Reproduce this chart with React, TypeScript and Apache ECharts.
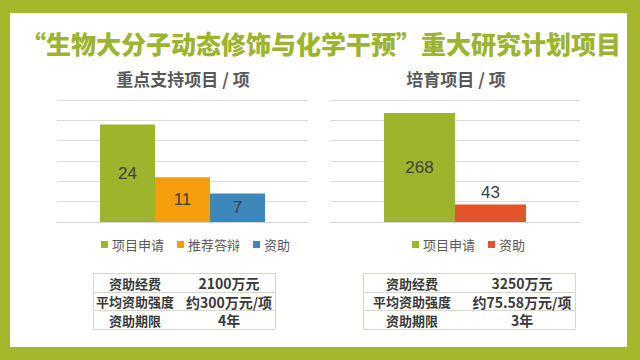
import React, { useEffect, useRef } from "react";
import * as echarts from "echarts";

const mainTitle = "“生物大分子动态修饰与化学干预”重大研究计划项目";

const leftTitle = "重点支持项目 / 项";
const leftSeriesNames = ["项目申请", "推荐答辩", "资助"];
const leftValues = [24, 11, 7];
const leftColors = ["#9db42c", "#f59d0a", "#3d87bb"];

const rightTitle = "培育项目 / 项";
const rightSeriesNames = ["项目申请", "资助"];
const rightValues = [268, 43];
const rightColors = ["#9db42c", "#e2542a"];

const tableLabels = ["资助经费", "平均资助强度", "资助期限"];
const leftTableValues = ["2100万元", "约300万元/项", "4年"];
const rightTableValues = ["3250万元", "约75.58万元/项", "3年"];

const FONT = "'Noto Sans CJK SC', 'Noto Sans', sans-serif";
const NUMFONT = "'Liberation Sans', Arial, sans-serif";

function buildTable(x0: number, x1: number, labelCx: number, valueCx: number, values: string[]) {
  const rows = [273, 292, 310, 329];
  const els: any[] = [];
  const lineColor = "#d8d8ca";
  rows.forEach((y) => {
    els.push({ type: "line", shape: { x1: x0, y1: y + 0.5, x2: x1, y2: y + 0.5 }, style: { stroke: lineColor, lineWidth: 1 } });
  });
  els.push({ type: "line", shape: { x1: x0 + 0.5, y1: rows[0], x2: x0 + 0.5, y2: rows[3] }, style: { stroke: lineColor, lineWidth: 1 } });
  els.push({ type: "line", shape: { x1: x1 + 0.5, y1: rows[0], x2: x1 + 0.5, y2: rows[3] }, style: { stroke: lineColor, lineWidth: 1 } });
  tableLabels.forEach((lab, i) => {
    const cy = (rows[i] + rows[i + 1]) / 2 + 0.5;
    els.push({ type: "text", x: labelCx, y: cy, style: { text: lab, fill: "#3a3a3a", font: `bold 13px ${FONT}`, textAlign: "center", textVerticalAlign: "middle" } });
    els.push({ type: "text", x: valueCx, y: cy, style: { text: values[i], fill: "#3a3a3a", font: `bold 14px ${FONT}`, textAlign: "center", textVerticalAlign: "middle" } });
  });
  return els;
}

export default function App() {
  const ref = useRef<HTMLDivElement>(null);
  useEffect(() => {
    if (!ref.current) return;
    const chart = echarts.init(ref.current, undefined, { renderer: "svg" });
    const splitLine = { show: true, lineStyle: { color: "#dcdcdc", width: 1 } };
    const labelStyle = { color: "#404040", fontSize: 17, fontFamily: NUMFONT };
    const series: any[] = [];
    leftSeriesNames.forEach((n, i) => {
      series.push({
        type: "bar", name: n, xAxisIndex: 0, yAxisIndex: 0, barWidth: 55, barGap: "0%",
        data: [leftValues[i]], itemStyle: { color: leftColors[i] },
        label: { show: true, position: "inside", ...labelStyle },
      });
    });
    rightSeriesNames.forEach((n, i) => {
      series.push({
        type: "bar", name: n, xAxisIndex: 1, yAxisIndex: 1, barWidth: 71, barGap: "0%",
        data: [rightValues[i]], itemStyle: { color: rightColors[i] },
        label: { show: true, position: i === 0 ? "inside" : "top", distance: 4, ...labelStyle },
      });
    });
    const legendCommon = {
      itemWidth: 7, itemHeight: 7, itemGap: 13, icon: "rect", selectedMode: false,
      textStyle: { color: "#595959", fontSize: 13, fontFamily: FONT, padding: [0, 0, 0, -1] },
    };
    chart.setOption({
      animation: false,
      backgroundColor: "#a4b72b",
      grid: [
        { left: 57, top: 100, width: 251, height: 122 },
        { left: 330, top: 100, width: 250, height: 122 },
      ],
      xAxis: [0, 1].map((g) => ({
        type: "category", gridIndex: g, data: [g === 0 ? leftTitle : rightTitle],
        axisLine: { show: true, lineStyle: { color: "#d4d4d4" } }, axisTick: { show: false }, axisLabel: { show: false },
      })),
      yAxis: [
        { type: "value", gridIndex: 0, min: 0, max: 30, interval: 5, axisLabel: { show: false }, axisLine: { show: false }, axisTick: { show: false }, splitLine },
        { type: "value", gridIndex: 1, min: 0, max: 300, interval: 50, axisLabel: { show: false }, axisLine: { show: false }, axisTick: { show: false }, splitLine },
      ],
      legend: [
        { ...legendCommon, left: 96, top: 233, data: leftSeriesNames.map((n, i) => ({ name: n, itemStyle: { color: leftColors[i] } })) },
        { ...legendCommon, left: 407, top: 233, data: rightSeriesNames.map((n, i) => ({ name: n, itemStyle: { color: rightColors[i] } })) },
      ],
      series,
      graphic: [
        { type: "rect", z: -10, shape: { x: 10, y: 13, width: 617, height: 334 }, style: { fill: "#ffffff" } },
        { type: "text", x: 321, y: 43, style: { text: mainTitle, fill: "#9cb42f", font: `900 25px ${FONT}`, textAlign: "center", textVerticalAlign: "middle" } },
        { type: "text", x: 183, y: 78, style: { text: leftTitle, fill: "#595959", font: `bold 17px ${FONT}`, textAlign: "center", textVerticalAlign: "middle" } },
        { type: "text", x: 456, y: 78, style: { text: rightTitle, fill: "#595959", font: `bold 17px ${FONT}`, textAlign: "center", textVerticalAlign: "middle" } },
        ...buildTable(93, 275, 135, 229, leftTableValues),
        ...buildTable(363, 575, 412, 522, rightTableValues),
      ],
    });
    return () => chart.dispose();
  }, []);
  return <div ref={ref} style={{ position: "fixed", left: 0, top: 0, width: 640, height: 360 }} />;
}
